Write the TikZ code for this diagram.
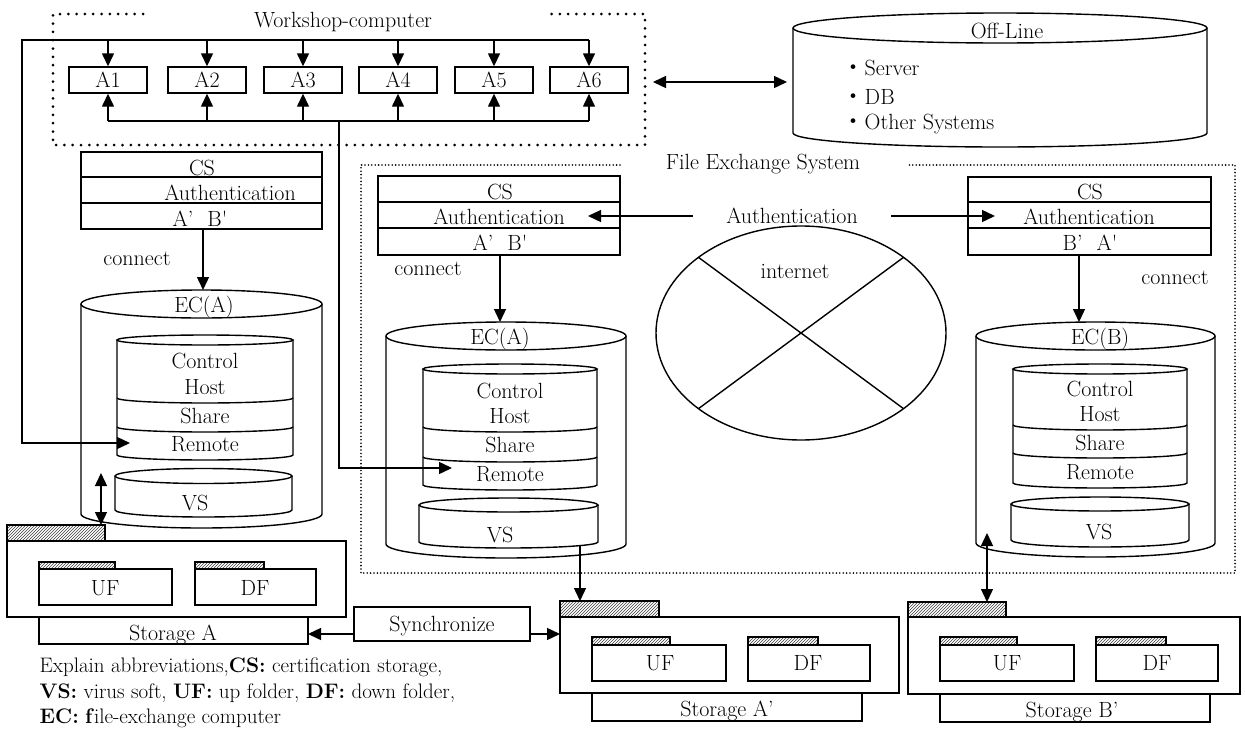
\documentclass[tikz,border=0pt]{standalone}
\usepackage{fontspec}
\newfontfamily\cjk{Noto Sans CJK JP}
\usetikzlibrary{arrows.meta,patterns}
\newcommand{\mycyl}[6]{%
  \pgfmathsetmacro{\mycx}{(#1+#2)/2}%
  \pgfmathsetmacro{\myrx}{(#2-#1)/2}%
  \draw[fill=white] (\mycx,#3) ellipse [x radius=\myrx, y radius=#5];%
  \draw (#1,#3) -- (#1,#4) arc [start angle=180, end angle=0, x radius=\myrx, y radius=#6] -- (#2,#3);%
}
\newcommand{\mydivarc}[4]{%
  \pgfmathsetmacro{\myrx}{(#2-#1)/2}%
  \draw (#1,#3) arc [start angle=180, end angle=0, x radius=\myrx, y radius=#4];%
}
\tikzset{
  arr/.style={-{Triangle[length=13pt,width=12pt]}},
  darr/.style={{Triangle[length=13pt,width=12pt]}-{Triangle[length=13pt,width=12pt]}},
  lbl/.style={inner sep=0pt,text height=15pt,text depth=0pt},
  abox/.style={draw,inner sep=0pt,minimum width=78pt,minimum height=26pt,text height=15pt,text depth=0pt},
  hatch/.style={draw,pattern=north east lines,pattern color=black!75},
  wdots/.style={line width=3pt,dash pattern=on 0pt off 8.3pt,line cap=round},
  fdots/.style={line width=1.8pt,dash pattern=on 0pt off 3.4pt,line cap=round},
  expl/.style={anchor=west,inner sep=0pt,text height=14pt,text depth=0pt,font=\fontsize{21}{23}\selectfont},
}
\begin{document}
\begin{tikzpicture}[x=1pt,y=-1pt,line width=1.4pt,font=\fontsize{22}{24}\selectfont]
\useasboundingbox (0,0) rectangle (1245,731);
\fill[white] (0,0) rectangle (1245,731);

% ---------- Workshop computer ----------
\draw[wdots] (143,14) -- (53,14) -- (53,145) -- (645,145) -- (645,14) -- (545,14);
\node[lbl] (wtitle) at (343,20) {Workshop-computer};
\foreach \i/\x in {1/108,2/207,3/303,4/398,5/494,6/589} {
  \node[abox] (A\i) at (\x,80) {A\i};
}
\coordinate (tbus) at (22,40);
\coordinate (bbus) at (339,121);
\coordinate (remL) at (130,443);
\coordinate (remM) at (452,468);
\draw[arr] (tbus -| A6) -- (tbus) -- (tbus |- remL) -- (remL);
\foreach \i in {1,...,6} {
  \draw[arr] (tbus -| A\i) -- (A\i.north);
  \draw[arr] (bbus -| A\i) -- (A\i.south);
}
\draw (bbus -| A1) -- (bbus -| A6);
\draw[arr] (bbus) -- (bbus |- remM) -- (remM);

% ---------- Off-Line ----------
\mycyl{793}{1207}{28}{133}{15}{14}
\node[lbl] (offl) at (1007,31) {Off-Line};
\node[lbl,anchor=west] (srv) at (842,68) {{\cjk ・}Server};
\node[lbl,anchor=west] (db) at (842,97) {{\cjk ・}DB};
\node[lbl,anchor=west] (oth) at (842,122) {{\cjk ・}Other Systems};
\coordinate (wsE) at (653,82);
\coordinate (offW) at (787,82);
\draw[darr] (wsE) -- (offW);

% ---------- File Exchange System ----------
\draw[fdots] (620,165) -- (361,165) -- (361,573) -- (1235,573) -- (1235,165) -- (908,165);
\node[lbl] (fes) at (763,162) {File Exchange System};

% ---------- left CS / EC(A) ----------
\node[draw,inner sep=0pt,minimum width=241pt,minimum height=77pt] (csL) at (201.5,190.5) {};
\draw (csL.west |- 0,177) -- (csL.east |- 0,177);
\draw (csL.west |- 0,203) -- (csL.east |- 0,203);
\node[lbl] (csLt) at (202,168) {CS};
\node[lbl] (csLa) at (230,193) {Authentication};
\node[lbl] (csLb) at (200,219) {A’\hspace{14pt}B\textquotesingle};
\coordinate (ecLtop) at (203,290);
\draw[arr] (csL.south -| ecLtop) -- (ecLtop);
\node[lbl] (conL) at (137,258) {connect};
\mycyl{81}{322}{304}{514}{14}{14}
\node[lbl] (ecL) at (204,305) {EC(A)};
\mycyl{117}{293}{340}{455}{5}{5}
\mydivarc{117}{293}{398}{5}
\mydivarc{117}{293}{427}{5}
\node[lbl] (ctlL) at (205,361) {Control};
\node[lbl] (hstL) at (205,387) {Host};
\node[lbl] (shrL) at (205,416) {Share};
\node[lbl] (remLt) at (205,444) {Remote};
\mycyl{115}{292}{476}{510}{7.5}{7}
\node[lbl] (vsL) at (195,503) {VS};
\coordinate (vsLb) at (101,473);
\coordinate (stAt) at (101,525);
\draw[darr] (vsLb) -- (stAt);

% ---------- Storage A ----------
\draw[hatch] (7,525) rectangle (105,541);
\draw (7,541) rectangle (346,617);
\draw[hatch] (39,562) rectangle (115,569);
\draw (39,569) rectangle (172,605);
\node[lbl] (ufA) at (105,588) {UF};
\draw[hatch] (195,562) rectangle (264,569);
\draw (195,569) rectangle (316,605);
\node[lbl] (dfA) at (255,588) {DF};
\draw (39,617) rectangle (308,644);
\node[lbl] (stA) at (173,633) {Storage A};

% ---------- Synchronize ----------
\node[draw,inner sep=0pt,minimum width=176pt,minimum height=34pt,text height=15pt,text depth=0pt] (sync) at (442,624) {Synchronize};
\coordinate (stAr) at (308,634);
\coordinate (stApl) at (560,634);
\draw[arr] (sync.west |- stAr) -- (stAr);
\draw[arr] (sync.east |- stApl) -- (stApl);

% ---------- middle CS / EC(A) ----------
\node[draw,inner sep=0pt,minimum width=242pt,minimum height=79pt] (csM) at (499,215.5) {};
\draw (csM.west |- 0,202) -- (csM.east |- 0,202);
\draw (csM.west |- 0,228) -- (csM.east |- 0,228);
\node[lbl] (csMt) at (500,192) {CS};
\node[lbl] (csMa) at (499,217) {Authentication};
\node[lbl] (csMb) at (500,243) {A’\hspace{14pt}B\textquotesingle};
\coordinate (ecMtop) at (500,322);
\draw[arr] (csM.south -| ecMtop) -- (ecMtop);
\node[lbl] (conM) at (428,268) {connect};
\mycyl{386}{626}{336}{544}{14}{14}
\node[lbl] (ecM) at (500,337) {EC(A)};
\mycyl{423}{597}{369}{485}{5}{5}
\mydivarc{423}{597}{427}{5}
\mydivarc{423}{597}{457}{5}
\node[lbl] (ctlM) at (510,391) {Control};
\node[lbl] (hstM) at (510,416) {Host};
\node[lbl] (shrM) at (510,445) {Share};
\node[lbl] (remMt) at (510,474) {Remote};
\mycyl{419}{598}{505}{542}{7}{6}
\node[lbl] (vsM) at (500,535) {VS};
\coordinate (vsMb) at (580,546);
\coordinate (stAPt) at (580,601);
\draw[arr] (vsMb) -- (stAPt);

% ---------- Authentication / internet ----------
\node[lbl,inner xsep=33pt] (auth) at (792,216) {Authentication};
\coordinate (authM) at (588,216);
\coordinate (authR) at (995,216);
\draw[arr] (auth.west) -- (authM);
\draw[arr] (auth.east) -- (authR);
\coordinate (inetc) at (801,333);
\draw (inetc) ellipse [x radius=145, y radius=107];
\draw ([shift={(inetc)}]45:145 and 107) -- ([shift={(inetc)}]225:145 and 107);
\draw ([shift={(inetc)}]135:145 and 107) -- ([shift={(inetc)}]315:145 and 107);
\node[lbl] (inet) at (795,271) {internet};

% ---------- right CS / EC(B) ----------
\node[draw,inner sep=0pt,minimum width=243pt,minimum height=78pt] (csR) at (1089.5,216) {};
\draw (csR.west |- 0,202) -- (csR.east |- 0,202);
\draw (csR.west |- 0,228) -- (csR.east |- 0,228);
\node[lbl] (csRt) at (1090,192) {CS};
\node[lbl] (csRa) at (1089,217) {Authentication};
\node[lbl] (csRb) at (1090,243) {B’\hspace{14pt}A\textquotesingle};
\coordinate (ecRtop) at (1079,322);
\draw[arr] (csR.south -| ecRtop) -- (ecRtop);
\node[lbl] (conR) at (1175,277) {connect};
\mycyl{976}{1215}{336}{543}{14}{14}
\node[lbl] (ecR) at (1100,337) {EC(B)};
\mycyl{1013}{1187}{369}{483}{5}{5}
\mydivarc{1013}{1187}{425}{5}
\mydivarc{1013}{1187}{453}{5}
\node[lbl] (ctlR) at (1100,389) {Control};
\node[lbl] (hstR) at (1100,414) {Host};
\node[lbl] (shrR) at (1100,443) {Share};
\node[lbl] (remRt) at (1100,472) {Remote};
\mycyl{1011}{1189}{504}{540}{7}{7}
\node[lbl] (vsR) at (1099,532) {VS};
\coordinate (ecRb) at (987,533);
\coordinate (stBt) at (987,602);
\draw[darr] (ecRb) -- (stBt);

% ---------- Storage A' ----------
\draw[hatch] (560,601) rectangle (659,617);
\draw (560,617) rectangle (899,693);
\draw[hatch] (592,637) rectangle (670,645);
\draw (592,645) rectangle (726,681);
\node[lbl] (ufAp) at (660,663) {UF};
\draw[hatch] (748,637) rectangle (818,645);
\draw (748,645) rectangle (870,681);
\node[lbl] (dfAp) at (808,663) {DF};
\draw (592,693) rectangle (862,721);
\node[lbl] (stAp) at (727,709) {Storage A’};

% ---------- Storage B' ----------
\draw[hatch] (908,602) rectangle (1006,617);
\draw (908,617) rectangle (1240,694);
\draw[hatch] (940,637) rectangle (1017,645);
\draw (940,645) rectangle (1074,681);
\node[lbl] (ufBp) at (1007,663) {UF};
\draw[hatch] (1096,637) rectangle (1166,645);
\draw (1096,645) rectangle (1218,681);
\node[lbl] (dfBp) at (1157,663) {DF};
\draw (940,694) rectangle (1210,722);
\node[lbl] (stBp) at (1072,710) {Storage B’};

% ---------- explanation ----------
\node[expl] (ex1) at (39,665) {Explain abbreviations,\textbf{CS:} certification storage,};
\node[expl] (ex2) at (39,691) {\textbf{VS:} virus soft, \textbf{UF:} up folder, \textbf{DF:} down folder,};
\node[expl] (ex3) at (39,716) {\textbf{EC:} \textbf{f}ile-exchange computer};
\end{tikzpicture}
\end{document}
